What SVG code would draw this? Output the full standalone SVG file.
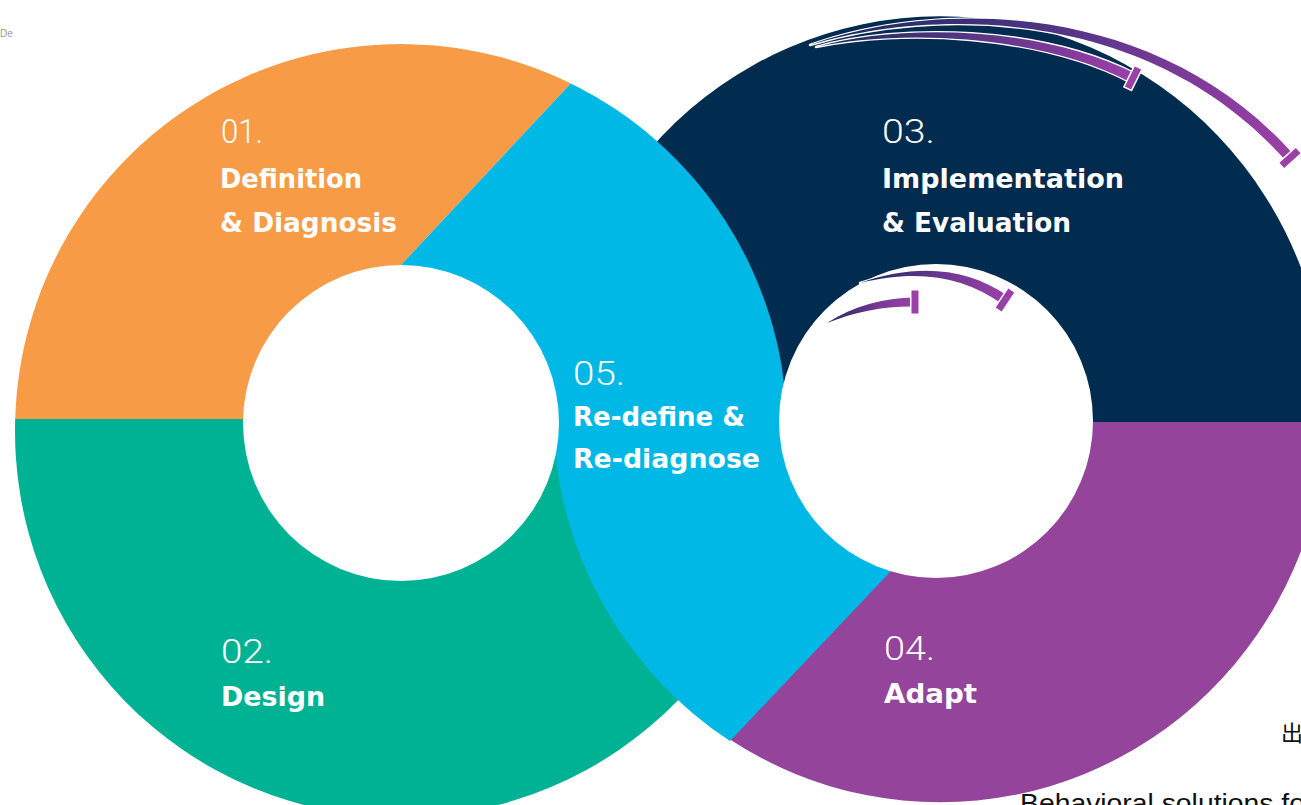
<svg xmlns="http://www.w3.org/2000/svg" width="1301" height="805" viewBox="0 0 1301 805">
<style>
.num{font-family:Roboto,"DejaVu Sans",sans-serif;font-weight:300;font-size:34px;fill:#ffffff}
.lbl{font-family:"DejaVu Sans","Liberation Sans",sans-serif;font-weight:700;font-size:26px;fill:#ffffff}
.arrow{stroke:#ffffff;stroke-width:2.5;paint-order:stroke;stroke-linejoin:round}
.bar{stroke:#9b40a8;stroke-width:7;fill:none}
.barhalo{stroke:#ffffff;stroke-width:10;fill:none}
.hole{fill:#ffffff}
</style>
<defs>
<linearGradient id="g1" gradientUnits="userSpaceOnUse" x1="812" y1="0" x2="1290" y2="0">
<stop offset="0" stop-color="#16295a"/><stop offset="0.45" stop-color="#4a3280"/><stop offset="1" stop-color="#9c40a8"/>
</linearGradient>
<linearGradient id="g2" gradientUnits="userSpaceOnUse" x1="818" y1="0" x2="1133" y2="0">
<stop offset="0" stop-color="#16295a"/><stop offset="0.5" stop-color="#5a3588"/><stop offset="1" stop-color="#9c40a8"/>
</linearGradient>
<linearGradient id="g3" gradientUnits="userSpaceOnUse" x1="828" y1="0" x2="915" y2="0">
<stop offset="0" stop-color="#1b2a60"/><stop offset="0.6" stop-color="#7a3a98"/><stop offset="1" stop-color="#9c40a8"/>
</linearGradient>
<linearGradient id="g4" gradientUnits="userSpaceOnUse" x1="862" y1="0" x2="1005" y2="0">
<stop offset="0" stop-color="#1b2a60"/><stop offset="0.55" stop-color="#6a3790"/><stop offset="1" stop-color="#9c40a8"/>
</linearGradient>
</defs>
<rect width="1301" height="805" fill="#ffffff"/>
<text x="0" y="37" font-family="'Liberation Sans',sans-serif" font-size="10" fill="#9a9a9a">De</text>

<g id="node-03">
<path d="M553.2,422 A387 393 0 1 1 1326.8,422 Z" fill="#012b4f"/>
<text class="num" x="882" y="143" textLength="53" lengthAdjust="spacingAndGlyphs">03.</text>
<text class="lbl" x="882" y="188" textLength="242" lengthAdjust="spacingAndGlyphs">Implementation</text>
<text class="lbl" x="882" y="232" textLength="189" lengthAdjust="spacingAndGlyphs">&amp; Evaluation</text>
</g>
<g id="node-04">
<path d="M553.2,422 A387 393 0 0 0 1326.8,422 Z" fill="#95449b"/>
<text class="num" x="884" y="660" textLength="51" lengthAdjust="spacingAndGlyphs">04.</text>
<text class="lbl" x="884" y="703" textLength="93" lengthAdjust="spacingAndGlyphs">Adapt</text>
</g>
<g id="node-02">
<path d="M15.2,419 A386 386 0 1 0 786.8,419 Z" fill="#00b294"/>
<text class="num" x="221" y="663" textLength="52" lengthAdjust="spacingAndGlyphs">02.</text>
<text class="lbl" x="221" y="706" textLength="104" lengthAdjust="spacingAndGlyphs">Design</text>
</g>
<g id="node-01">
<path d="M15.2,419 A386 386 0 0 1 570.8,83.4 L401,265 L401,419 Z" fill="#f79b46"/>
<text class="num" x="221" y="143" textLength="42" lengthAdjust="spacingAndGlyphs">01.</text>
<text class="lbl" x="220" y="188" textLength="142" lengthAdjust="spacingAndGlyphs">Definition</text>
<text class="lbl" x="220" y="232" textLength="177" lengthAdjust="spacingAndGlyphs">&amp; Diagnosis</text>
</g>
<g id="node-05">
<path d="M401,265 L570.8,83.4 A386 386 0 0 1 786.8,419 L936,421 L891,571 L730,741 A387 393 0 0 1 553.2,423 L401,423 Z" fill="#00b8e6"/>
</g>
<g id="holes">
<circle class="hole" cx="401" cy="423" r="158"/>
<circle class="hole" cx="936" cy="421" r="157"/>
</g>
<g id="node-05-text">
<text class="num" x="573" y="385" textLength="52" lengthAdjust="spacingAndGlyphs">05.</text>
<text class="lbl" x="573" y="426" textLength="172" lengthAdjust="spacingAndGlyphs">Re-define &amp;</text>
<text class="lbl" x="573" y="468" textLength="187" lengthAdjust="spacingAndGlyphs">Re-diagnose</text>
</g>

<g id="connectors">
<path class="arrow" fill="url(#g1)" d="M810,45 C929.5,1.5 1152,-4.6 1293.7,154.7 L1286.3,161.3 C1148,4.6 930.5,8.5 810,45 Z"/>
<line class="barhalo" x1="1299.5" y1="149.5" x2="1280.5" y2="166.5"/>
<line class="bar" x1="1298.2" y1="150.7" x2="1281.8" y2="165.3"/>

<path class="arrow" fill="url(#g2)" d="M816,47 C899.8,23 1041,25.6 1135.3,73.6 L1130.7,82.4 C1039,34.4 900.2,29 816,47 Z"/>
<line class="barhalo" x1="1138.6" y1="66.6" x2="1127.4" y2="89.4"/>
<line class="bar" x1="1138" y1="68" x2="1128" y2="88"/>

<path class="arrow" fill="url(#g3)" d="M827,323 C853.7,305.9 883.3,298 915,297.5 L915,306.5 C884.1,306 855.7,311.5 827,323 Z"/>
<line class="barhalo" x1="915" y1="289.5" x2="915" y2="314.5"/>
<line class="bar" x1="915" y1="290.5" x2="915" y2="313.5"/>

<path class="arrow" fill="url(#g4)" d="M860,283 C917,263 966.6,267.8 1007.9,295.9 L1002.1,304.1 C963.4,276.2 917.6,269 860,283 Z"/>
<line class="barhalo" x1="1012" y1="289.5" x2="998" y2="310.5"/>
<line class="bar" x1="1011.3" y1="290.5" x2="998.7" y2="309.5"/>
</g>

<text x="1281" y="741" font-family="'Noto Sans CJK SC',sans-serif" font-size="22" fill="#111111">出</text>
<text x="1020" y="812" font-family="'Liberation Sans',sans-serif" font-size="25" fill="#111111" textLength="285" lengthAdjust="spacingAndGlyphs">Behavioral solutions fo</text>
</svg>
